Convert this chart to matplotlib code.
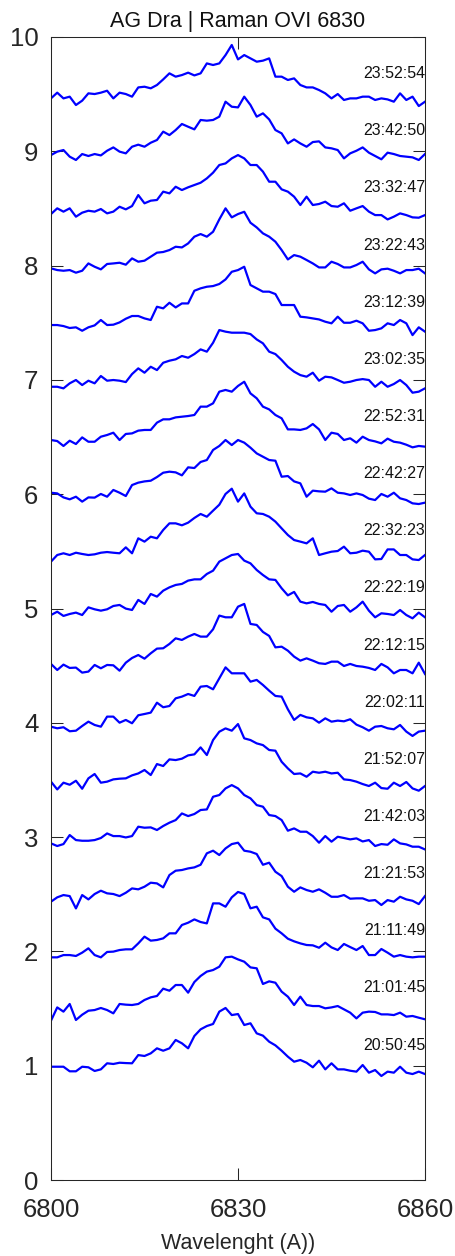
import matplotlib
matplotlib.use('Agg')
import matplotlib.pyplot as plt
import numpy as np

plt.rcParams['font.family'] = ['Liberation Sans', 'DejaVu Sans']

wavelength = np.arange(6800, 6861, 1)

times = ['23:52:54', '23:42:50', '23:32:47', '23:22:43', '23:12:39', '23:02:35',
         '22:52:31', '22:42:27', '22:32:23', '22:22:19', '22:12:15', '22:02:11',
         '21:52:07', '21:42:03', '21:21:53', '21:11:49', '21:01:45', '20:50:45']
offsets = [8.5, 8.0, 7.5, 7.0, 6.5, 6.0, 5.5, 5.0, 4.5, 4.0, 3.5, 3.0, 2.5, 2.0, 1.5, 1.0, 0.5, 0.0]

flux_235254 = [0.963,1.013,0.963,0.978,0.905,0.943,1.007,1.001,1.013,1.030,0.963,1.013,1.001,0.978,1.059,1.065,1.051,1.080,1.129,1.182,1.153,1.167,1.188,1.164,1.182,1.269,1.255,1.269,1.342,1.430,1.304,1.342,1.313,1.284,1.293,1.313,1.153,1.153,1.124,1.138,1.080,1.059,1.059,1.036,1.007,0.963,1.001,0.949,0.963,0.963,0.978,0.978,0.949,0.963,0.954,0.934,1.007,0.949,0.978,0.896,0.934]
flux_234250 = [0.967,0.997,1.011,0.953,0.924,0.976,0.959,0.976,0.964,1.005,1.034,0.997,0.982,1.040,1.058,1.040,1.075,1.099,1.172,1.142,1.186,1.239,1.215,1.192,1.274,1.268,1.274,1.303,1.434,1.390,1.384,1.478,1.405,1.303,1.332,1.279,1.186,1.157,1.069,1.104,1.069,1.040,1.081,1.087,1.034,1.026,1.011,0.938,0.982,1.005,1.034,0.988,0.959,0.930,0.988,0.976,0.959,0.953,0.947,0.924,0.976]
flux_233247 = [0.951,1.001,0.972,1.001,0.928,0.963,0.980,0.972,0.995,0.957,0.972,1.015,0.992,1.021,1.117,1.045,1.068,1.074,1.147,1.132,1.190,1.161,1.185,1.205,1.225,1.263,1.313,1.380,1.394,1.438,1.467,1.438,1.380,1.380,1.322,1.234,1.234,1.167,1.147,1.103,1.030,1.103,1.030,1.039,1.059,1.021,1.015,1.045,0.980,1.001,1.021,0.972,0.942,0.942,0.904,0.928,0.957,0.942,0.922,0.919,0.942]
flux_232243 = [0.976,0.961,0.955,0.961,0.938,0.955,1.019,0.990,0.967,1.014,1.019,1.025,1.008,1.063,1.034,1.043,1.078,1.113,1.119,1.136,1.165,1.159,1.194,1.253,1.276,1.253,1.296,1.404,1.501,1.422,1.451,1.471,1.375,1.334,1.282,1.253,1.209,1.136,1.054,1.092,1.078,1.049,1.019,0.984,0.984,1.034,1.014,0.984,0.984,1.005,1.034,0.967,0.932,0.967,0.973,0.955,0.932,0.961,0.961,0.973,0.932]
flux_231239 = [0.980,0.980,0.971,0.954,0.960,0.930,0.960,0.977,1.024,0.980,0.983,1.003,1.035,1.059,1.059,1.038,1.024,1.140,1.126,1.175,1.134,1.169,1.169,1.280,1.301,1.315,1.321,1.339,1.379,1.446,1.461,1.490,1.330,1.301,1.272,1.272,1.251,1.155,1.155,1.155,1.053,1.047,1.038,1.029,1.009,0.995,1.053,1.000,1.000,1.018,0.995,0.930,0.936,0.951,0.995,0.980,1.024,0.995,0.892,0.960,0.922]
flux_230235 = [0.940,0.940,0.926,0.970,0.999,0.955,0.993,0.970,1.034,0.993,0.999,0.993,0.981,1.051,1.101,1.063,1.115,1.086,1.150,1.168,1.180,1.209,1.194,1.226,1.267,1.247,1.325,1.436,1.422,1.413,1.413,1.413,1.401,1.354,1.320,1.247,1.226,1.174,1.115,1.072,1.042,1.028,1.063,0.993,1.028,1.022,0.999,0.975,0.984,0.999,1.007,0.999,0.940,0.984,0.940,0.964,0.999,0.955,0.888,0.897,0.926]
flux_225231 = [0.974,0.965,0.922,0.968,0.939,0.997,0.959,0.959,1.003,1.018,1.038,0.974,1.027,1.032,1.056,1.062,1.062,1.126,1.155,1.155,1.172,1.178,1.184,1.193,1.266,1.266,1.295,1.397,1.412,1.397,1.447,1.484,1.382,1.339,1.266,1.242,1.193,1.164,1.067,1.067,1.062,1.076,1.114,1.067,0.974,1.038,1.027,0.974,0.989,0.951,1.003,0.974,0.962,0.945,0.986,0.959,0.951,0.933,0.910,0.922,0.916]
flux_224227 = [1.013,1.007,0.972,0.955,0.978,0.935,0.972,0.970,1.002,0.978,1.037,1.013,0.984,1.080,1.101,1.112,1.118,1.150,1.188,1.197,1.191,1.165,1.235,1.229,1.282,1.299,1.387,1.422,1.474,1.430,1.474,1.451,1.407,1.357,1.328,1.299,1.293,1.153,1.159,1.112,1.095,0.978,1.031,1.025,1.022,1.051,1.013,1.007,0.993,1.007,0.993,0.961,0.949,1.002,0.978,1.013,0.964,0.949,0.920,0.914,0.926]
flux_223223 = [0.910,0.968,0.983,0.968,0.988,0.977,0.968,0.974,0.988,0.994,0.988,0.983,1.035,0.983,1.114,1.085,1.128,1.114,1.187,1.245,1.245,1.228,1.251,1.292,1.327,1.303,1.356,1.408,1.502,1.548,1.435,1.507,1.391,1.333,1.327,1.303,1.260,1.201,1.143,1.099,1.085,1.070,1.114,0.968,0.983,0.997,1.003,1.041,0.983,0.988,1.006,0.997,0.930,0.933,1.017,1.017,0.968,0.968,0.930,0.924,0.968]
flux_222219 = [0.943,0.972,0.935,0.952,0.964,0.943,1.010,0.993,0.981,0.993,1.022,1.031,0.999,0.987,1.075,1.040,1.127,1.104,1.156,1.185,1.206,1.215,1.244,1.255,1.255,1.302,1.331,1.410,1.439,1.468,1.477,1.419,1.395,1.337,1.293,1.255,1.250,1.177,1.115,1.145,1.060,1.045,1.057,1.040,1.031,0.972,1.022,1.031,0.972,1.010,1.060,0.981,0.923,0.958,0.952,0.943,0.987,0.943,0.914,0.964,0.923]
flux_221215 = [1.015,0.962,1.009,0.980,0.983,0.939,0.948,1.006,0.977,1.006,1.003,0.956,1.026,1.067,1.093,1.061,1.108,1.149,1.152,1.190,1.239,1.225,1.254,1.277,1.254,1.254,1.318,1.438,1.423,1.423,1.516,1.540,1.365,1.356,1.295,1.260,1.160,1.166,1.131,1.079,1.044,1.064,1.044,1.021,1.015,1.035,1.035,0.997,1.015,0.997,0.991,0.980,0.962,1.015,0.985,0.933,0.962,0.962,0.933,1.026,0.927]
flux_220211 = [0.966,0.952,0.961,0.926,0.931,0.972,1.010,0.981,0.966,1.054,1.054,1.001,1.025,0.996,1.066,1.077,1.089,1.176,1.136,1.147,1.214,1.229,1.252,1.235,1.316,1.322,1.293,1.389,1.485,1.433,1.433,1.433,1.360,1.375,1.331,1.281,1.235,1.229,1.118,1.025,1.069,1.048,1.039,1.001,1.039,1.010,1.019,1.013,1.031,0.984,0.961,0.931,0.966,0.972,0.952,0.943,0.981,0.923,0.885,0.923,0.931]
flux_215207 = [0.985,0.917,0.976,0.958,0.993,0.923,1.014,1.052,0.976,0.985,1.005,1.011,1.014,1.040,1.057,1.087,1.043,1.139,1.122,1.180,1.174,1.186,1.215,1.224,1.285,1.218,1.349,1.422,1.451,1.431,1.489,1.364,1.349,1.320,1.305,1.262,1.256,1.159,1.101,1.052,1.057,1.028,1.072,1.063,1.072,1.057,1.063,1.005,0.999,0.985,0.964,0.947,0.976,0.929,0.923,0.976,0.947,0.982,0.926,0.906,0.947]
flux_214203 = [0.945,0.922,0.939,1.018,0.974,0.968,0.968,0.974,0.992,1.032,1.009,1.009,0.997,1.009,1.091,1.082,1.085,1.062,1.097,1.126,1.149,1.207,1.184,1.202,1.237,1.242,1.353,1.368,1.426,1.455,1.426,1.368,1.339,1.280,1.266,1.193,1.184,1.149,1.056,1.076,1.047,1.047,1.009,0.951,1.009,0.960,1.003,0.992,0.980,0.989,0.962,0.974,0.922,0.939,0.933,0.980,0.945,0.936,0.916,0.916,0.892]
flux_212153 = [0.935,0.973,0.993,0.984,0.876,0.993,0.955,1.002,1.031,1.008,1.002,0.984,1.013,1.051,1.043,1.066,1.101,1.095,1.060,1.168,1.206,1.212,1.226,1.235,1.258,1.358,1.381,1.343,1.401,1.439,1.451,1.381,1.372,1.352,1.258,1.276,1.197,1.159,1.066,1.022,1.060,1.037,1.022,1.043,1.013,0.978,0.978,0.993,0.961,0.964,0.964,0.943,0.949,0.906,0.949,0.935,0.978,0.955,0.943,0.914,0.984]
flux_211149 = [0.948,0.948,0.968,0.968,0.960,0.989,1.027,0.968,0.948,0.995,0.998,1.012,1.018,1.018,1.070,1.129,1.094,1.100,1.114,1.158,1.158,1.231,1.251,1.280,1.257,1.245,1.420,1.420,1.391,1.473,1.520,1.502,1.377,1.391,1.298,1.280,1.199,1.158,1.111,1.088,1.070,1.056,1.053,1.032,1.076,1.035,1.012,1.065,1.038,1.012,1.047,0.968,0.968,1.021,0.989,0.954,0.968,0.954,0.948,0.954,0.954]
flux_210145 = [0.894,1.010,0.973,1.040,0.900,0.946,0.981,0.987,1.005,0.987,0.958,1.040,1.034,1.031,1.040,1.075,1.098,1.110,1.174,1.156,1.206,1.206,1.139,1.232,1.285,1.323,1.337,1.366,1.448,1.454,1.430,1.410,1.360,1.352,1.215,1.238,1.226,1.148,1.104,1.031,1.104,1.031,1.022,1.022,1.002,1.010,1.022,0.993,0.964,0.914,0.964,0.973,0.970,0.949,0.949,0.943,0.964,0.929,0.935,0.920,0.906]
flux_205045 = [0.991,0.991,0.991,0.951,0.951,0.991,0.986,0.954,0.968,1.021,1.015,1.026,1.023,1.021,1.093,1.085,1.108,1.152,1.131,1.152,1.225,1.196,1.152,1.260,1.318,1.347,1.365,1.473,1.505,1.443,1.452,1.356,1.371,1.283,1.263,1.210,1.178,1.131,1.079,1.035,1.050,1.026,0.986,1.044,0.968,1.021,0.968,0.968,0.956,0.948,1.006,0.939,0.962,0.910,0.948,0.939,0.991,0.939,0.927,0.948,0.927]

spectra = [flux_235254, flux_234250, flux_233247, flux_232243, flux_231239, flux_230235,
           flux_225231, flux_224227, flux_223223, flux_222219, flux_221215, flux_220211,
           flux_215207, flux_214203, flux_212153, flux_211149, flux_210145, flux_205045]

axcol = '#262626'
fig = plt.figure(figsize=(4.56, 12.56), dpi=100)
ax = fig.add_axes([51/456, 76/1256, 374/456, 1143/1256])

for t, off, fl in zip(times, offsets, spectra):
    ax.plot(wavelength, np.array(fl) + off, color='#0000ff', lw=1.6,
            solid_joinstyle='round')
    ax.text(6860, off + 1.18, t, ha='right', va='center', fontsize=11.5, color='#111111')

ax.set_xlim(6800, 6860)
ax.set_ylim(0, 10)
ax.set_xticks([6800, 6830, 6860])
ax.set_yticks(range(0, 11))
ax.tick_params(direction='in', length=8.5, width=0.75, top=True, right=True,
               labelsize=18.5, colors=axcol, pad=9)
ax.tick_params(axis='x', pad=13)
for s in ax.spines.values():
    s.set_color(axcol)
    s.set_linewidth(0.75)

ax.set_title('AG Dra | Raman OVI 6830', fontsize=15.5, pad=7, color='#111111')
ax.set_xlabel('Wavelenght (A))', fontsize=15.5, color=axcol, labelpad=8)

fig.savefig('out.png', dpi=100)
